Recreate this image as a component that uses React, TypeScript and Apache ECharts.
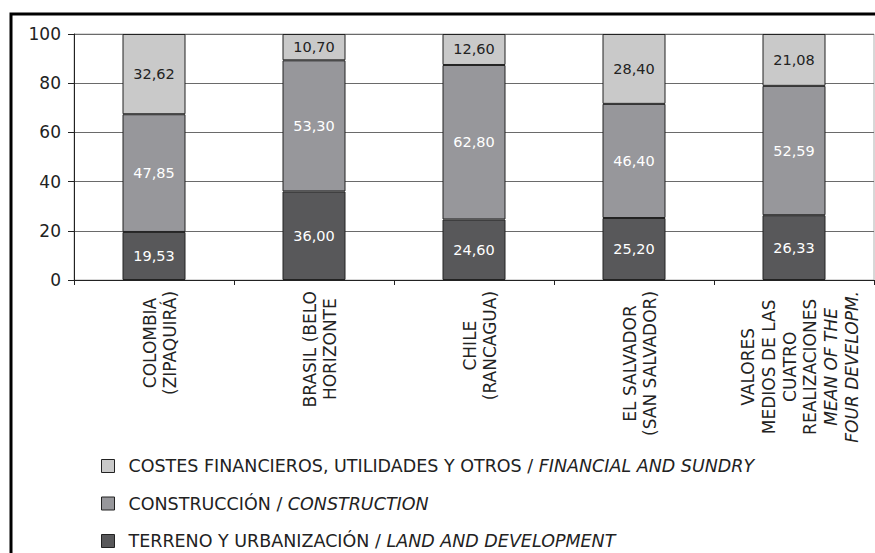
import React, { useEffect, useRef } from "react";
import * as echarts from "echarts";

const categories = [
  "COLOMBIA\n(ZIPAQUIRÁ)",
  "BRASIL (BELO\nHORIZONTE",
  "CHILE\n(RANCAGUA)",
  "EL SALVADOR\n(SAN SALVADOR)",
  "VALORES\nMEDIOS DE LAS\nCUATRO\nREALIZACIONES\nMEAN OF THE\nFOUR DEVELOPM.",
];
const italicLines = ["MEAN OF THE", "FOUR DEVELOPM."];

const terreno = [19.53, 36.0, 24.6, 25.2, 26.33];
const construccion = [47.85, 53.3, 62.8, 46.4, 52.59];
const costes = [32.62, 10.7, 12.6, 28.4, 21.08];

const namesEs = [
  "TERRENO Y URBANIZACIÓN",
  "CONSTRUCCIÓN",
  "COSTES FINANCIEROS, UTILIDADES Y OTROS",
];
const namesEn = ["LAND AND DEVELOPMENT", "CONSTRUCTION", "FINANCIAL AND SUNDRY"];

const yTicks = { min: 0, max: 100, interval: 20 };

const FONT = "DejaVu Sans";
const TEXT = "#222";

export default function App() {
  const ref = useRef<HTMLDivElement>(null);
  useEffect(() => {
    if (!ref.current) return;
    document.body.style.margin = "0";
    const chart = echarts.init(ref.current, null, { renderer: "svg" });
    const fmt = (v: number) => v.toFixed(2).replace(".", ",");
    const colors = ["#58585a", "#97979b", "#c9c9c9"];
    const labelColors = ["#ffffff", "#ffffff", "#222222"];
    const seriesData = [terreno, construccion, costes];
    const enOf: Record<string, string> = {};
    namesEs.forEach((n, i) => (enOf[n] = namesEn[i]));
    chart.setOption({
      animation: false,
      backgroundColor: "#ffffff",
      textStyle: { fontFamily: FONT },
      grid: {
        left: 74,
        top: 34,
        right: 1,
        bottom: 273,
        show: true,
        borderColor: "#b0b0b0",
        borderWidth: 1,
      },
      graphic: [
        {
          type: "rect",
          shape: { x: 11, y: 14, width: 1000, height: 800 },
          style: { fill: "none", stroke: "#000", lineWidth: 3 },
          silent: true,
        },
      ],
      legend: {
        orient: "vertical",
        left: 101,
        top: 456,
        height: 120,
        padding: 0,
        itemGap: 17.5,
        itemWidth: 13,
        itemHeight: 13,
        icon: "rect",
        data: [namesEs[2], namesEs[1], namesEs[0]],
        itemStyle: { borderColor: "#222", borderWidth: 1 },
        formatter: (name: string) => `{p| }{t|${name} / }{i|${enOf[name]}}`,
        textStyle: {
          fontFamily: FONT,
          fontSize: 17.5,
          color: TEXT,
          lineHeight: 20,
          rich: {
            p: { width: 9, fontSize: 17.5 },
            t: { fontFamily: FONT, fontSize: 17.5, color: TEXT },
            i: { fontFamily: FONT, fontSize: 17.5, color: TEXT, fontStyle: "italic" },
          },
        },
      },
      xAxis: {
        type: "category",
        data: categories,
        boundaryGap: true,
        axisLine: { lineStyle: { color: "#222", width: 1 } },
        axisTick: { show: true, length: 5, lineStyle: { color: "#222" } },
        axisLabel: {
          interval: 0,
          rotate: 90,
          margin: 11,
          padding: [12, 0, 0, 0],
          formatter: (value: string) =>
            value
              .split("\n")
              .map((l) => (italicLines.includes(l) ? `{i|${l}}` : `{n|${l}}`))
              .join("\n"),
          rich: {
            n: { align: "center", fontFamily: FONT, fontSize: 17, color: TEXT, lineHeight: 20.8 },
            i: {
              align: "center",
              fontFamily: FONT,
              fontSize: 17,
              color: TEXT,
              lineHeight: 20.8,
              fontStyle: "italic",
            },
          },
        },
      },
      yAxis: {
        type: "value",
        min: yTicks.min,
        max: yTicks.max,
        interval: yTicks.interval,
        axisLine: { show: true, lineStyle: { color: "#222", width: 1 } },
        axisTick: { show: true, length: 6, lineStyle: { color: "#222" } },
        axisLabel: { fontFamily: FONT, fontSize: 17, color: TEXT, margin: 13 },
        splitLine: { show: true, lineStyle: { color: "#6a6a6a", width: 1 } },
      },
      series: seriesData.map((d, i) => ({
        name: namesEs[i],
        type: "bar",
        stack: "total",
        barWidth: 63,
        data: d,
        itemStyle: { color: colors[i], borderColor: "#222", borderWidth: 1 },
        label: {
          show: true,
          position: "inside",
          fontFamily: FONT,
          fontSize: 14.5,
          color: labelColors[i],
          formatter: (p: any) => fmt(p.value),
        },
      })),
    });
    return () => chart.dispose();
  }, []);
  return <div ref={ref} style={{ width: 875, height: 553 }} />;
}
